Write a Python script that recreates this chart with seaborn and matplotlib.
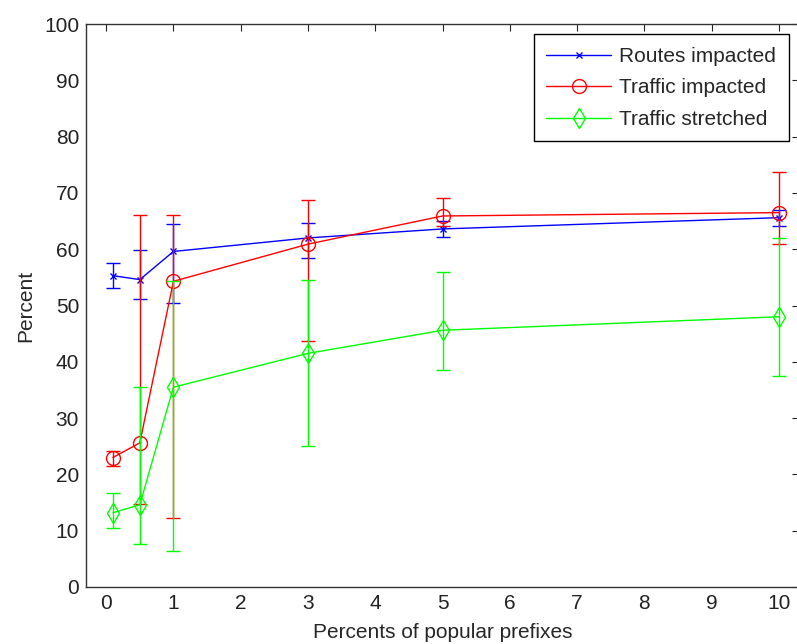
import pandas as pd
import matplotlib
matplotlib.use("Agg")
import matplotlib.pyplot as plt
import seaborn as sns

# Values
prefix_pct = [0.1, 0.5, 1, 3, 5, 10]

routes = [55.3, 54.6, 59.6, 62.0, 63.6, 65.6]
routes_lo = [53.1, 51.1, 50.5, 58.5, 62.1, 64.1]
routes_hi = [57.5, 59.8, 64.5, 64.7, 65.0, 67.0]

traffic = [23.0, 25.6, 54.3, 60.9, 65.9, 66.5]
traffic_lo = [21.5, 14.7, 12.3, 43.7, 64.1, 60.9]
traffic_hi = [24.1, 66.0, 66.0, 68.8, 69.1, 73.7]

stretched = [13.2, 14.6, 35.5, 41.5, 45.6, 48.0]
stretched_lo = [10.5, 7.6, 6.4, 25.0, 38.5, 37.5]
stretched_hi = [16.7, 35.5, 54.4, 54.5, 55.9, 62.0]

series = [
    ("Routes impacted", routes, routes_lo, routes_hi, (0, 0, 1), "x", 5),
    ("Traffic impacted", traffic, traffic_lo, traffic_hi, (1, 0, 0), "o", 10),
    ("Traffic stretched", stretched, stretched_lo, stretched_hi, (0, 1, 0), "d", 10),
]

sns.set_style("white")
plt.rcParams["font.family"] = ["Liberation Sans", "DejaVu Sans"]

fig = plt.figure(figsize=(7.97, 6.44), dpi=100)
ax = fig.add_axes([86 / 797, 57 / 644, 713 / 797, 563 / 644])

for name, vals, lo, hi, col, mk, ms in series:
    df = pd.DataFrame({"x": prefix_pct, "y": vals})
    yerr = [[v - l for v, l in zip(vals, lo)], [h - v for v, h in zip(vals, hi)]]
    ax.errorbar(prefix_pct, vals, yerr=yerr, fmt="none", ecolor=col,
                elinewidth=1, capsize=5, capthick=1)
    sns.lineplot(data=df, x="x", y="y", ax=ax, color=col, marker=mk,
                 markersize=ms, markerfacecolor="none", markeredgecolor=col,
                 markeredgewidth=1, linewidth=1, label=name)

ax.set_xlim(-0.3, 10.3)
ax.set_ylim(0, 100)
ax.set_xticks(range(0, 11))
ax.set_yticks(range(0, 101, 10))
ax.tick_params(direction="in", top=True, right=True, length=5,
               labelsize=15, colors="#222222", pad=5)
for s in ax.spines.values():
    s.set_color("#333333")
    s.set_linewidth(1)

ax.set_xlabel("Percents of popular prefixes", fontsize=15, labelpad=7)
ax.set_ylabel("Percent", fontsize=15, labelpad=6)

leg = ax.legend(loc="upper right", fontsize=15, handlelength=3.1,
                handletextpad=0.4, fancybox=False, framealpha=1,
                edgecolor="black", borderaxespad=0.5, labelspacing=0.6,
                borderpad=0.6)
leg.get_frame().set_linewidth(1)

plt.savefig("out.png", dpi=100)
